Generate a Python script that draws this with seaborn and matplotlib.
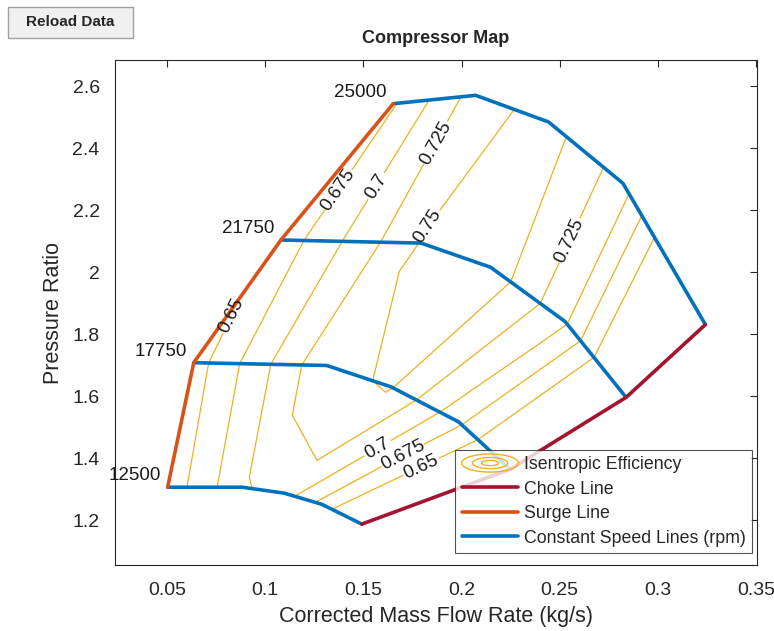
import matplotlib
matplotlib.use('Agg')
import matplotlib.pyplot as plt
import seaborn as sns
import numpy as np
from matplotlib.legend_handler import HandlerBase
from matplotlib.patches import Ellipse, Rectangle
from matplotlib.lines import Line2D
from matplotlib.ticker import FuncFormatter

# speed lines, surge side -> choke side
speeds = [12500, 17750, 21750, 25000]
mass_flow = [
    [0.0503, 0.0884, 0.1096, 0.1288, 0.1492],
    [0.0636, 0.1313, 0.1641, 0.1985, 0.2247],
    [0.1080, 0.1794, 0.2148, 0.2527, 0.2838],
    [0.1652, 0.2072, 0.2443, 0.2822, 0.3242],
]
pressure_ratio = [
    [1.306, 1.306, 1.287, 1.251, 1.187],
    [1.708, 1.699, 1.630, 1.517, 1.364],
    [2.104, 2.094, 2.016, 1.841, 1.596],
    [2.544, 2.571, 2.485, 2.287, 1.831],
]
efficiency = [
    [0.634, 0.696, 0.713, 0.667, 0.600],
    [0.638, 0.745, 0.752, 0.680, 0.600],
    [0.660, 0.7515, 0.767, 0.704, 0.590],
    [0.672, 0.7365, 0.762, 0.712, 0.550],
]
eff_levels = [0.65, 0.675, 0.7, 0.725, 0.75]
eff_label_pos = [(0.0854, 1.853), (0.1389, 2.259), (0.1566, 2.278), (0.1854, 2.423),
                 (0.1838, 2.143), (0.2576, 2.095), (0.1581, 1.422), (0.1717, 1.390),
                 (0.1803, 1.358)]

c_speed = '#0072BD'
c_surge = '#D95319'
c_choke = '#A2142F'
c_eff = '#EDB120'


class EffHandle:
    pass


class EllipseHandler(HandlerBase):
    def create_artists(self, legend, orig_handle, xdescent, ydescent, width, height, fontsize, trans):
        cx = width / 2 - xdescent
        cy = height / 2 - ydescent
        arts = []
        for f in (1.0, 0.62, 0.3):
            arts.append(Ellipse((cx, cy), width * f, height * 1.45 * f, fill=False,
                                ec=c_eff, lw=1.0, transform=trans))
        return arts


sns.set_style('white')
plt.rcParams['font.family'] = ['Liberation Sans', 'DejaVu Sans']

fig = plt.figure(figsize=(7.74, 6.31), dpi=100)
ax = fig.add_axes([0.1486, 0.1046, 0.8295, 0.8003])

X = np.array(mass_flow)
Y = np.array(pressure_ratio)
Z = np.array(efficiency)

#efficiency islands
cs = ax.contour(X, Y, Z, levels=eff_levels, colors=c_eff, linewidths=0.9)
ax.clabel(cs, manual=eff_label_pos, inline=True, fmt='%g', fontsize=13.5, colors='#1a1a1a')

#constant speed lines
for i, rpm in enumerate(speeds):
    sns.lineplot(x=mass_flow[i], y=pressure_ratio[i], sort=False, color=c_speed, lw=2.6, ax=ax)
    ax.annotate(str(rpm), (mass_flow[i][0], pressure_ratio[i][0]), xytext=(-5, 2),
                textcoords='offset points', ha='right', va='bottom', fontsize=13.5, color='#1a1a1a')

#surge and choke
surge_x = [row[0] for row in mass_flow]
surge_y = [row[0] for row in pressure_ratio]
choke_x = [row[-1] for row in mass_flow]
choke_y = [row[-1] for row in pressure_ratio]
sns.lineplot(x=surge_x, y=surge_y, sort=False, color=c_surge, lw=2.6, ax=ax)
sns.lineplot(x=choke_x, y=choke_y, sort=False, color=c_choke, lw=2.6, ax=ax)

ax.set_xlim(0.0235, 0.3505)
ax.set_ylim(1.055, 2.685)
ax.set_xticks(np.arange(0.05, 0.36, 0.05))
ax.set_yticks(np.arange(1.2, 2.61, 0.2))
fmt = FuncFormatter(lambda v, p: '%g' % round(v, 3))
ax.xaxis.set_major_formatter(fmt)
ax.yaxis.set_major_formatter(fmt)
ax.tick_params(direction='in', top=True, right=True, length=5, width=0.8,
               labelsize=14, colors='#262626')
ax.tick_params(axis='x', pad=12)
ax.tick_params(axis='y', pad=11)
for s in ax.spines.values():
    s.set_color('#262626')
    s.set_linewidth(0.8)

ax.set_title('Compressor Map', fontweight='bold', fontsize=13, pad=12)
ax.set_xlabel('Corrected Mass Flow Rate (kg/s)', fontsize=15.5, color='#262626', labelpad=5)
ax.set_ylabel('Pressure Ratio', fontsize=15.5, color='#262626', labelpad=6)

handles = [EffHandle(),
           Line2D([], [], color=c_choke, lw=2.6),
           Line2D([], [], color=c_surge, lw=2.6),
           Line2D([], [], color=c_speed, lw=2.6)]
labels = ['Isentropic Efficiency', 'Choke Line', 'Surge Line', 'Constant Speed Lines (rpm)']
leg = ax.legend(handles, labels, handler_map={EffHandle: EllipseHandler()},
                loc='lower right', bbox_to_anchor=(0.992, 0.024), borderaxespad=0,
                frameon=True, fancybox=False, edgecolor='#262626', fontsize=12.8,
                handlelength=3.2, handletextpad=0.3, labelspacing=0.42, borderpad=0.35)
leg.get_frame().set_linewidth(0.8)

#reload button
fig.add_artist(Rectangle((8 / 774, 1 - 38 / 631), 125 / 774, 31 / 631, transform=fig.transFigure,
                         fc='#f0f0f0', ec='#a0a0a0', lw=1))
fig.text(70 / 774, 1 - 22 / 631, 'Reload Data', ha='center', va='center',
         fontsize=11, fontweight='bold')

fig.savefig('out.png', dpi=100)
